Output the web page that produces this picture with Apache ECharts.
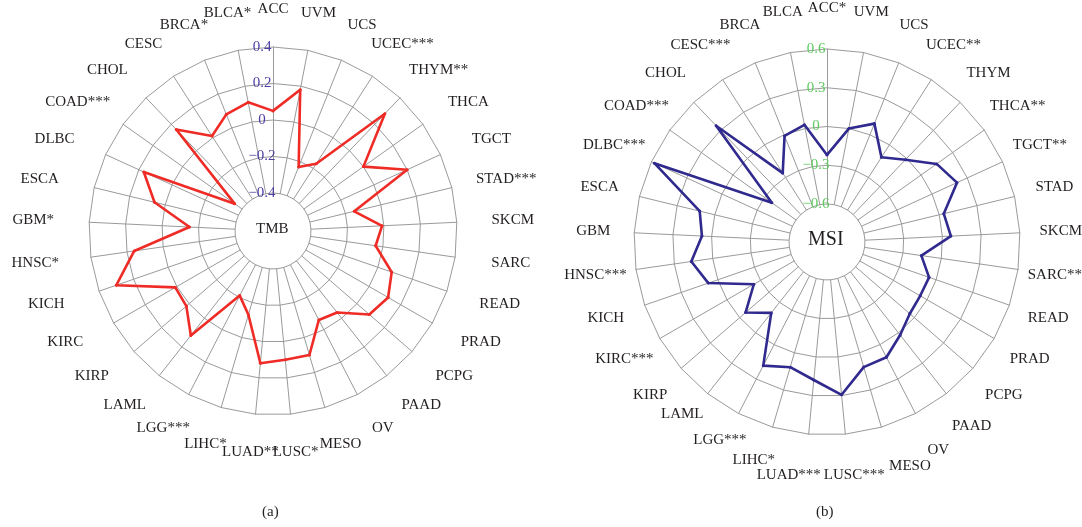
<!DOCTYPE html>
<html><head><meta charset="utf-8">
<script src="https://cdn.jsdelivr.net/npm/echarts@6/dist/echarts.min.js"></script>
<style>html,body{margin:0;padding:0;background:#fff}#c{width:1082px;height:527px}</style>
</head><body><div id="c"></div>
<script>
// Categories listed counter-clockwise from the top (ECharts radar order)
const categoriesTMB = ['ACC','BLCA*','BRCA*','CESC','CHOL','COAD***','DLBC','ESCA','GBM*','HNSC*','KICH','KIRC','KIRP','LAML','LGG***','LIHC*','LUAD**','LUSC*','MESO','OV','PAAD','PCPG','PRAD','READ','SARC','SKCM','STAD***','TGCT','THCA','THYM**','UCEC***','UCS','UVM'];
const categoriesMSI = ['ACC*','BLCA','BRCA','CESC***','CHOL','COAD***','DLBC***','ESCA','GBM','HNSC***','KICH','KIRC***','KIRP','LAML','LGG***','LIHC*','LUAD***','LUSC***','MESO','OV','PAAD','PCPG','PRAD','READ','SARC***','SKCM','STAD','TGCT**','THCA**','THYM','UCEC**','UCS','UVM'];
const tmbValues = [0.05,0.11,0.08,0.01,0.16,-0.35,0.17,0.06,-0.15,0.16,0.30,0.01,0.02,0.12,-0.21,-0.13,0.12,0.10,0.10,-0.06,-0.04,0.09,0.12,0.08,-0.04,-0.01,-0.15,0.20,0.00,0.28,-0.17,-0.23,0.18];
const msiValues = [-0.22,0.03,-0.01,-0.26,0.35,-0.37,0.575,0.12,0.075,0.167,0.078,-0.24,-0.06,-0.196,0.183,0.116,0.179,0.294,0.115,0.11,0.022,-0.046,-0.061,-0.058,-0.156,0.066,0.036,0.212,0.148,-0.014,-0.115,0.093,0.0];
const tmbTicks = [-0.4,-0.2,0,0.2,0.4];
const msiTicks = [-0.6,-0.3,0,0.3,0.6];
const centerLabels = ['TMB','MSI'];
const captions = ['(a)','(b)'];
// small [dx, dy] nudges (px) for crowded MSI names at the bottom
const nudgeMSI = {'LAML':[0,-12], 'LGG***':[0,-10], 'LIHC*':[-7,-6], 'LUAD***':[-16,0], 'LUSC***':[5,0], 'MESO':[17,0], 'OV':[4,0]};

const FONT = '"Liberation Serif","DejaVu Serif",serif';
const NAME_SIZE = 15;
function fmt(v){ const s = (+(+v).toFixed(2)).toString(); return s.replace('-', '\u2212'); }
// names centred on an ellipse of radii rx, ry around the radar centre
function makeIndicators(names, ticks, color, outerR, rx, ry, nudge){
  const n = names.length;
  return names.map(function(name,i){
    const th = (90 + i*360/n) * Math.PI/180;
    const c = Math.cos(th), sn = Math.sin(th);
    const nd = (nudge && nudge[name]) || [0,0];
    // vertical nudge: move along the spoke, then compensate horizontally
    const dD = (nd[1] !== 0 && Math.abs(sn) > 0.05) ? -nd[1] / sn : 0;
    const s = Math.round(((rx - ry) * c + nd[0] - dD * c) * 2) / 2;
    const pad = [0, s < 0 ? -2*s : 0, 0, s > 0 ? 2*s : 0];
    const o = {name:name, min:ticks[0], max:ticks[ticks.length-1], nameGap: ry - outerR + dD,
               nameTextStyle:{padding:pad}};
    if(i===0){ o.axisLabel = {show:true, color:color, fontFamily:FONT, fontSize:15, align:'center', margin:11, formatter:fmt}; }
    return o;
  });
}
function radarCfg(names, ticks, color, center, radius, rx, ry, nudge){
  return {
    center:center, radius:radius, shape:'polygon', startAngle:90,
    splitNumber:ticks.length-1,
    indicator: makeIndicators(names, ticks, color, radius[1], rx, ry, nudge),
    axisName:{color:'#231f20', fontFamily:FONT, fontSize:NAME_SIZE, align:'center', verticalAlign:'middle'},
    nameGap:30,
    splitLine:{lineStyle:{color:'#9a9a9a', width:1}},
    axisLine:{lineStyle:{color:'#9a9a9a', width:1}},
    splitArea:{show:false},
    axisTick:{show:false},
    axisLabel:{show:false}
  };
}
const chart = echarts.init(document.getElementById('c'), null, {renderer:'canvas'});
chart.setOption({
  animation:false,
  backgroundColor:'#fff',
  radar:[
    radarCfg(categoriesTMB, tmbTicks, '#4b3fa3', [273,231], [38,184], 240, 222, null),
    radarCfg(categoriesMSI, msiTicks, '#5fca5f', [827,242], [38,193], 234, 234, nudgeMSI)
  ],
  series:[
    {type:'radar', radarIndex:0, symbol:'circle', symbolSize:3,
     lineStyle:{color:'#ef2b26', width:2.6}, itemStyle:{color:'#ef2b26'},
     data:[{value:tmbValues, name:centerLabels[0]}]},
    {type:'radar', radarIndex:1, symbol:'circle', symbolSize:3,
     lineStyle:{color:'#30298e', width:2.6}, itemStyle:{color:'#30298e'},
     data:[{value:msiValues, name:centerLabels[1]}]}
  ],
  graphic:[
    {type:'text', left:273-17, top:231-9, style:{text:centerLabels[0], font:'15px '+FONT, fill:'#231f20'}},
    {type:'text', left:827-19, top:242-12, style:{text:centerLabels[1], font:'20px '+FONT, fill:'#231f20'}},
    {type:'text', left:262, top:505, style:{text:captions[0], font:'15px '+FONT, fill:'#231f20'}},
    {type:'text', left:816, top:505, style:{text:captions[1], font:'15px '+FONT, fill:'#231f20'}}
  ]
});
</script></body></html>
